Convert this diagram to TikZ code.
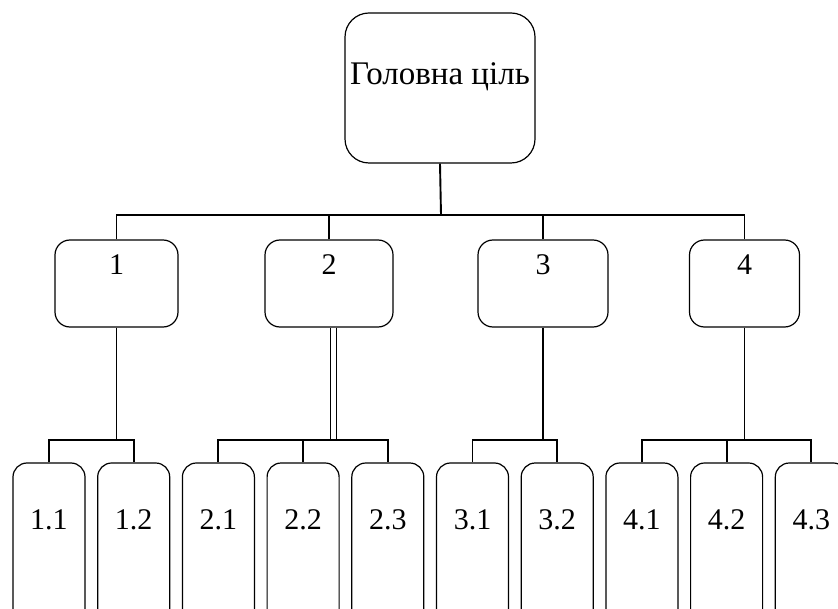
\documentclass[tikz,border=0pt]{standalone}
\usepackage{fontspec}
\setmainfont{Liberation Serif}
\begin{document}
\begin{tikzpicture}[x=1pt,y=-1pt,
  boxbase/.style={draw, line width=1.2pt, inner sep=0pt},
  topbox/.style={boxbase, rounded corners=24pt, minimum width=190pt, minimum height=150pt},
  midbox/.style={boxbase, rounded corners=15pt, minimum height=87pt},
  leafbox/.style={boxbase, rounded corners=14pt, minimum width=72pt, minimum height=165pt},
  lbl/.style={font=\fontsize{30}{34}\selectfont, inner sep=0pt},
  conn/.style={line width=1.9pt}
]
\clip (0,0) rectangle (838,609);
\fill[white] (0,0) rectangle (838,609);

% top
\node[topbox] (g) at (440,88) {};
\node[lbl, font=\fontsize{33}{36}\selectfont] (gt) at (440,77) {Головна ціль};

% middle row
\node[midbox, minimum width=123pt] (m1) at (116.5,283.5) {};
\node[midbox, minimum width=128pt] (m2) at (329,283.5) {};
\node[midbox, minimum width=130pt] (m3) at (543,283.5) {};
\node[midbox, minimum width=110pt] (m4) at (744.5,283.5) {};
\node[lbl] (t1) at (116.5,265) {1};
\node[lbl] (t2) at (329,265) {2};
\node[lbl] (t3) at (543,265) {3};
\node[lbl] (t4) at (744.5,265) {4};

% leaves
\foreach \n/\i in {11/0,12/1,21/2,22/3,23/4,31/5,32/6,41/7,42/8,43/9}{
  \node[leafbox] (b\n) at ({49+84.7*\i},545.5) {};
}
\foreach \n/\t in {11/1.1,12/1.2,21/2.1,22/2.2,23/2.3,31/3.1,32/3.2,41/4.1,42/4.2,43/4.3}{
  \node[lbl] (l\n) at ([yshift=25.5pt]b\n.center) {\t};
}

% connectors top -> middle
\coordinate (bus) at (441,215);
\draw[conn] (g.south) -- (bus);
\draw[conn] (m1.north) |- (bus) -| (m4.north);
\draw[conn] (m2.north) -- (m2.north |- bus);
\draw[conn] (m3.north) -- (m3.north |- bus);

% sub-buses
\coordinate (s1) at (116.5,440);
\coordinate (s2) at (333.5,440);
\coordinate (s3) at (543,440);
\coordinate (s4) at (744.5,440);
\draw[conn] (m1.south) -- (s1);
\draw[line width=1.6pt, double, double distance=4.5pt] ([xshift=4.5pt]m2.south) -- (s2);
\draw[conn] (m3.south) -- (s3);
\draw[conn] (m4.south) -- (s4);

\draw[conn] (b11.north) |- (s1) -| (b12.north);
\draw[conn] (b21.north) |- (s2) -| (b23.north);
\draw[conn] (b22.north) -- (b22.north |- s2);
\draw[conn] (b31.north) |- (s3) -| (b32.north);
\draw[conn] (b41.north) |- (s4) -| (b43.north);
\draw[conn] (b42.north) -- (b42.north |- s4);
\end{tikzpicture}
\end{document}
